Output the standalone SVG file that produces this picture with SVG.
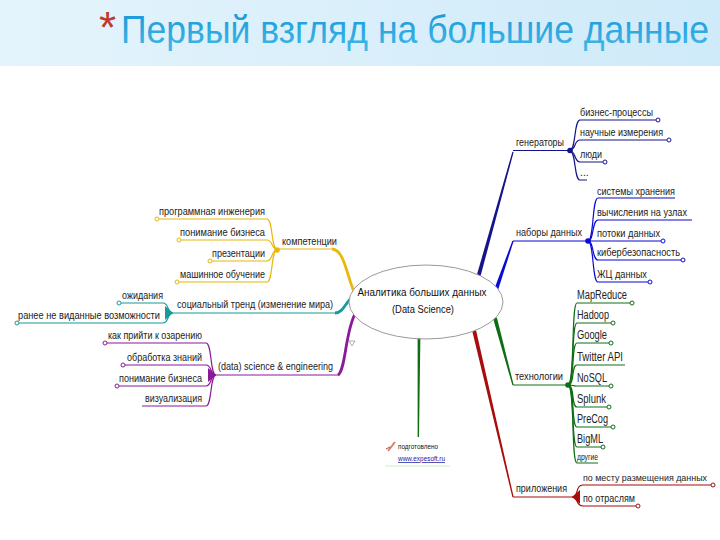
<svg xmlns="http://www.w3.org/2000/svg" width="720" height="540" viewBox="0 0 720 540">
<defs>
<linearGradient id="hdr" x1="0" y1="0" x2="1" y2="0">
<stop offset="0" stop-color="#e4f4fc"/>
<stop offset="1" stop-color="#cfeaf9"/>
</linearGradient>
<linearGradient id="ttl" x1="0" y1="0" x2="0" y2="1">
<stop offset="0" stop-color="#1496d6"/>
<stop offset="1" stop-color="#44b8e8"/>
</linearGradient>
<style>
text{font-family:"Liberation Sans",Arial,sans-serif;fill:#222}
.s{font-size:10.5px}
.t{font-size:12.5px}
.l{stroke-width:1.2;fill:none}
.c{fill:#fff;stroke-width:1}
.navy{stroke:#14148a}
.blue{stroke:#0a0ad2}
.grn{stroke:#0f6e14}
.red{stroke:#a80c0c}
.yel{stroke:#e8b80c}
.teal{stroke:#179a9a}
.pur{stroke:#8a1a9a}
</style>
</defs>
<rect x="0" y="0" width="720" height="66" fill="url(#hdr)"/>
<text x="99" y="43" style="font-size:44px;fill:#c0392b">*</text>
<text transform="translate(121,43) scale(1,1.15)" x="0" y="0" textLength="588" lengthAdjust="spacingAndGlyphs" style="font-size:34px;fill:url(#ttl)">Первый взгляд на большие данные</text>

<g id="connectors">
<polygon points="479.9,278.5 513.6,152.2 512.4,151.8 476.1,277.5" fill="#14148a"/>
<path class="l navy" d="M513,150.5 H570"/>
<polygon points="497.9,290.6 513.6,241.2 512.4,240.8 494.1,289.4" fill="#0a0ad2"/>
<path class="l blue" d="M513,241 H588"/>
<polygon points="496.9,317.5 513.6,384.8 512.4,385.2 493.1,318.5" fill="#0f6e14"/>
<path class="l grn" d="M513,385 H568"/>
<polygon points="475.9,329.5 513.6,496.8 512.4,497.2 472.1,330.5" fill="#a80c0c"/>
<path class="l red" d="M513,497 H572"/>
<polygon points="417.6,335 420.4,335 419,437 417.6,437" fill="#0f6e14"/>
<path d="M354,292 C346,272 344,250 332,249" fill="none" stroke="#e8b80c" stroke-width="2.8"/>
<path class="l yel" d="M333,249 H277"/>
<path d="M354,296 C346,300 344,313 335,313" fill="none" stroke="#179a9a" stroke-width="2.8"/>
<path class="l teal" d="M336,313 H173"/>
<path d="M356,312 C345,330 346,370 338,375" fill="none" stroke="#8a1a9a" stroke-width="2.8"/>
<path class="l pur" d="M339,375 H216"/>

<g class="navy">
<circle cx="570" cy="150.5" r="2.8" fill="#14148a" stroke="none"/>
<path class="l" d="M570,150 C576,150 574,120 580,120 H656"/>
<path class="l" d="M570,150 C576,150 574,140 580,140 H667"/>
<path class="l" d="M570,151 C576,151 574,162 580,162 H603"/>
<path class="l" d="M570,151 C576,151 574,180 580,180 H587"/>
<circle class="c" cx="658" cy="120" r="2"/>
<circle class="c" cx="669" cy="140" r="2"/>
<circle class="c" cx="605" cy="162" r="2"/>
</g>
<g class="blue">
<circle cx="588" cy="241" r="2.8" fill="#0a0ad2" stroke="none"/>
<path class="l" d="M588,241 C594,241 592,198 598,198 H675"/>
<path class="l" d="M588,241 C594,241 592,220 598,220 H692"/>
<path class="l" d="M588,241 H661"/>
<path class="l" d="M588,241 C594,241 592,260 598,260 H681"/>
<path class="l" d="M588,241 C594,241 592,282 598,282 H648"/>
<circle class="c" cx="663" cy="241" r="2"/>
<circle class="c" cx="683" cy="260" r="2"/>
<circle class="c" cx="650" cy="282" r="2"/>
</g>
<g class="grn">
<circle cx="568" cy="385" r="2.8" fill="#0f6e14" stroke="none"/>
<path class="l" d="M568,385 C575,385 571,303 577,303 H630"/>
<path class="l" d="M568,385 C575,385 571,323 577,323 H611"/>
<path class="l" d="M568,385 C575,385 571,343 577,343 H609"/>
<path class="l" d="M568,385 C575,385 571,365 577,365 H625"/>
<path class="l" d="M568,385 C575,385 571,386 577,386 H609"/>
<path class="l" d="M568,385 C575,385 571,407 577,407 H607"/>
<path class="l" d="M568,385 C575,385 571,427 577,427 H611"/>
<path class="l" d="M568,385 C575,385 571,447 577,447 H601"/>
<path class="l" d="M568,385 C575,385 571,463 577,463 H598"/>
<circle class="c" cx="632" cy="303" r="2"/>
<circle class="c" cx="613" cy="323" r="2"/>
<circle class="c" cx="611" cy="343" r="2"/>
<circle class="c" cx="611" cy="386" r="2"/>
<circle class="c" cx="609" cy="407" r="2"/>
<circle class="c" cx="613" cy="427" r="2"/>
<circle class="c" cx="603" cy="447" r="2"/>
</g>
<g class="red">
<path d="M572,497 L580,490 L580,504 Z" fill="#a80c0c" stroke="none"/>
<path class="l" d="M572,497 C579,497 575,485 583,485 H711"/>
<path class="l" d="M572,497 C579,497 575,506 583,506 H636"/>
<circle class="c" cx="713" cy="485" r="2"/>
<circle class="c" cx="638" cy="506" r="2"/>
</g>
<g class="yel">
<circle cx="277" cy="250" r="2.8" fill="#e8b80c" stroke="none"/>
<path class="l" d="M277,249 C271,249 273,219 267,219 H159"/>
<path class="l" d="M277,249 C271,249 273,240 267,240 H181"/>
<path class="l" d="M277,250 C271,250 273,261 267,261 H212"/>
<path class="l" d="M277,250 C271,250 273,282 267,282 H179"/>
<circle class="c" cx="157" cy="219" r="2"/>
<circle class="c" cx="179" cy="240" r="2"/>
<circle class="c" cx="210" cy="261" r="2"/>
<circle class="c" cx="177" cy="282" r="2"/>
</g>
<g class="teal">
<path d="M173,313 L165,306 L165,320 Z" fill="#179a9a" stroke="none"/>
<path class="l" d="M173,313 C167,313 169,303 163,303 H121"/>
<path class="l" d="M173,313 C167,313 169,323 163,323 H19"/>
<circle class="c" cx="119" cy="303" r="2"/>
<circle class="c" cx="17" cy="323" r="2"/>
</g>
<g class="pur">
<path d="M216,375 L208,368 L208,382 Z" fill="#8a1a9a" stroke="none"/>
<path class="l" d="M216,375 C210,375 212,343 206,343 H107"/>
<path class="l" d="M216,375 C210,375 212,365 206,365 H125"/>
<path class="l" d="M216,375 C210,375 212,386 206,386 H119"/>
<path class="l" d="M216,375 C210,375 212,406 206,406 H142"/>
<circle class="c" cx="105" cy="343" r="2"/>
<circle class="c" cx="123" cy="365" r="2"/>
<circle class="c" cx="117" cy="386" r="2"/>
</g>
</g>

<g id="center">
<ellipse cx="426" cy="302" rx="77" ry="37" fill="#fff" stroke="#9a9a9a" stroke-width="1"/>
<text x="422" y="296" text-anchor="middle" textLength="129" lengthAdjust="spacingAndGlyphs" style="font-size:11px;fill:#111">Аналитика больших данных</text>
<text x="423" y="313" text-anchor="middle" textLength="62" lengthAdjust="spacingAndGlyphs" style="font-size:11px;fill:#111">(Data Science)</text>
</g>
<polygon points="349,341 355,341 352,346" fill="none" stroke="#999" stroke-width="0.8"/>

<g id="generators">
<text class="s" x="516" y="146" textLength="48" lengthAdjust="spacingAndGlyphs">генераторы</text>
<text class="s" x="580" y="116" textLength="73" lengthAdjust="spacingAndGlyphs">бизнес-процессы</text>
<text class="s" x="580" y="136" textLength="83" lengthAdjust="spacingAndGlyphs">научные измерения</text>
<text class="s" x="580" y="158" textLength="22" lengthAdjust="spacingAndGlyphs">люди</text>
<text class="s" x="580" y="176">...</text>
</g>
<g id="datasets">
<text class="s" x="516" y="236" textLength="66" lengthAdjust="spacingAndGlyphs">наборы данных</text>
<text class="s" x="597" y="195" textLength="78" lengthAdjust="spacingAndGlyphs">системы хранения</text>
<text class="s" x="597" y="216" textLength="90" lengthAdjust="spacingAndGlyphs">вычисления на узлах</text>
<text class="s" x="597" y="237" textLength="63" lengthAdjust="spacingAndGlyphs">потоки данных</text>
<text class="s" x="597" y="256" textLength="83" lengthAdjust="spacingAndGlyphs">кибербезопасность</text>
<text class="s" x="597" y="278" textLength="50" lengthAdjust="spacingAndGlyphs">ЖЦ данных</text>
</g>
<g id="technologies">
<text class="s" x="515" y="380" textLength="48" lengthAdjust="spacingAndGlyphs">технологии</text>
<text class="t" x="577" y="299" textLength="50" lengthAdjust="spacingAndGlyphs">MapReduce</text>
<text class="t" x="577" y="319" textLength="32" lengthAdjust="spacingAndGlyphs">Hadoop</text>
<text class="t" x="577" y="339" textLength="30" lengthAdjust="spacingAndGlyphs">Google</text>
<text class="t" x="577" y="361" textLength="46" lengthAdjust="spacingAndGlyphs">Twitter API</text>
<text class="t" x="577" y="382" textLength="30" lengthAdjust="spacingAndGlyphs">NoSQL</text>
<text class="t" x="577" y="403" textLength="29" lengthAdjust="spacingAndGlyphs">Splunk</text>
<text class="t" x="577" y="423" textLength="31" lengthAdjust="spacingAndGlyphs">PreCog</text>
<text class="t" x="577" y="443" textLength="26" lengthAdjust="spacingAndGlyphs">BigML</text>
<text x="577" y="460" textLength="21" lengthAdjust="spacingAndGlyphs" style="font-size:8.5px">другие</text>
</g>
<g id="applications">
<text class="s" x="516" y="492" textLength="51" lengthAdjust="spacingAndGlyphs">приложения</text>
<text x="583" y="481" textLength="124" lengthAdjust="spacingAndGlyphs" style="font-size:9.5px">по месту размещения данных</text>
<text class="s" x="583" y="502" textLength="52" lengthAdjust="spacingAndGlyphs">по отраслям</text>
</g>
<g id="competencies">
<text class="s" x="282" y="245" textLength="55" lengthAdjust="spacingAndGlyphs">компетенции</text>
<text class="s" x="265" y="215" text-anchor="end" textLength="106" lengthAdjust="spacingAndGlyphs">программная инженерия</text>
<text class="s" x="265" y="236" text-anchor="end" textLength="85" lengthAdjust="spacingAndGlyphs">понимание бизнеса</text>
<text class="s" x="265" y="257" text-anchor="end" textLength="53" lengthAdjust="spacingAndGlyphs">презентации</text>
<text class="s" x="265" y="278" text-anchor="end" textLength="85" lengthAdjust="spacingAndGlyphs">машинное обучение</text>
</g>
<g id="social">
<text class="s" x="177" y="308" textLength="156" lengthAdjust="spacingAndGlyphs">социальный тренд (изменение мира)</text>
<text class="s" x="163" y="299" text-anchor="end" textLength="41" lengthAdjust="spacingAndGlyphs">ожидания</text>
<text class="s" x="160" y="319" text-anchor="end" textLength="142" lengthAdjust="spacingAndGlyphs">ранее не виданные возможности</text>
</g>
<g id="datascience">
<text class="s" x="218" y="370" textLength="115" lengthAdjust="spacingAndGlyphs">(data) science &amp; engineering</text>
<text class="s" x="202" y="339" text-anchor="end" textLength="94" lengthAdjust="spacingAndGlyphs">как прийти к озарению</text>
<text class="s" x="202" y="361" text-anchor="end" textLength="75" lengthAdjust="spacingAndGlyphs">обработка знаний</text>
<text class="s" x="202" y="382" text-anchor="end" textLength="83" lengthAdjust="spacingAndGlyphs">понимание бизнеса</text>
<text class="s" x="202" y="402" text-anchor="end" textLength="57" lengthAdjust="spacingAndGlyphs">визуализация</text>
</g>
<g id="credit">
<path d="M388,451 L395,442" stroke="#e07a6a" stroke-width="2"/>
<path d="M386,449 L390,447" stroke="#c04040" stroke-width="1"/>
<text x="398" y="449" textLength="40" lengthAdjust="spacingAndGlyphs" style="font-size:7.5px;fill:#111">подготовлено</text>
<text x="398" y="461" textLength="47" lengthAdjust="spacingAndGlyphs" style="font-size:7.5px;fill:#1a1aa0;text-decoration:underline">www.expesoft.ru</text>
<line x1="385" y1="466" x2="450" y2="466" stroke="#dff2df" stroke-width="1.5"/>
</g>
</svg>
